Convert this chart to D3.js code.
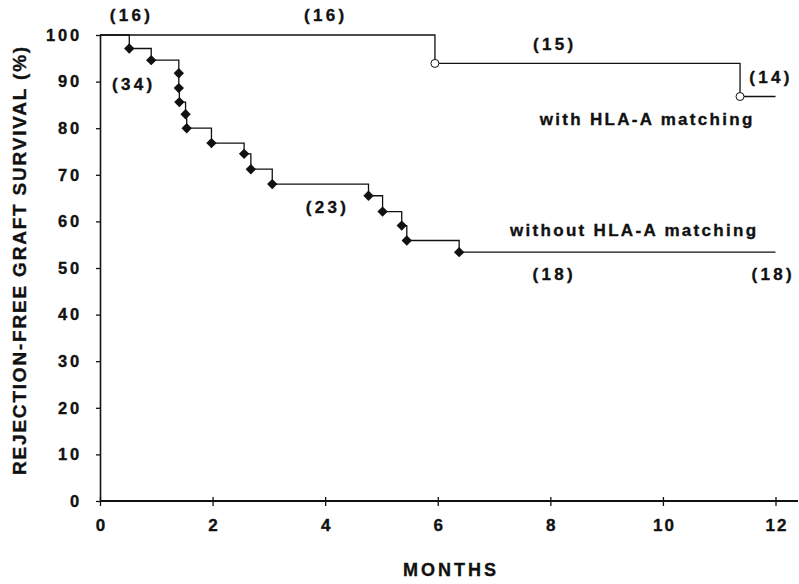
<!DOCTYPE html>
<html>
<head>
<meta charset="utf-8">
<script src="https://cdn.jsdelivr.net/npm/d3@7"></script>
<style>
  body { margin: 0; background: #fff; }
  text { font-family: "Liberation Sans", Arial, Helvetica, sans-serif; font-weight: bold; fill: #111; stroke: #111; stroke-width: 0.35px; }
</style>
</head>
<body>
<svg id="plotSvg"></svg>
<script>
// event times (months) and survival (%)
var monthsWithout = [0.52, 0.91, 1.40, 1.40, 1.41, 1.52, 1.54, 1.98, 2.56, 2.68, 3.06, 4.77, 5.02, 5.36, 5.45, 6.38];
var survivalWithout = [97.1, 94.6, 91.8, 88.6, 85.6, 83.0, 80.0, 76.8, 74.5, 71.2, 68.0, 65.5, 62.1, 59.1, 55.9, 53.4];
var monthsWith = [5.95, 11.37];
var survivalWith = [93.9, 86.8];
var followUp = 12;

var xTicks = [0, 2, 4, 6, 8, 10, 12];
var yTicks = [0, 10, 20, 30, 40, 50, 60, 70, 80, 90, 100];

// numbers at risk and curve labels, placed in data units
var labelText = ["(16)", "(16)", "(15)", "(14)", "with HLA-A matching",
                 "(34)", "(23)", "without HLA-A matching", "(18)", "(18)"];
var labelMonth = [0.56, 4.01, 8.08, 11.92, 9.72, 0.60, 4.04, 9.49, 8.07, 11.96];
var labelPct = [103.1, 103.1, 96.8, 89.6, 80.7, 88.1, 61.7, 56.8, 47.4, 47.4];

var W = 799, H = 584;
var svg = d3.select("#plotSvg").attr("width", W).attr("height", H);

var x = d3.scaleLinear().domain([0, 12]).range([100, 775.5]);
var y = d3.scaleLinear().domain([0, 100]).range([501, 35]);

// y axis
var yAxis = svg.append("g")
  .attr("transform", "translate(" + x(0) + ",0)")
  .call(d3.axisLeft(y).tickValues(yTicks).tickSizeInner(4).tickSizeOuter(0).tickPadding(14));
yAxis.select(".domain").attr("stroke", "#111").attr("stroke-width", 1.6);
yAxis.selectAll(".tick line").attr("stroke", "#111").attr("stroke-width", 1.3);
yAxis.selectAll(".tick text")
  .attr("font-size", 16.5).attr("letter-spacing", 2.8).attr("fill", "#111")
  .style("font-family", "'Liberation Sans', Arial, sans-serif").style("font-weight", "bold");

// x axis
var xAxis = svg.append("g")
  .attr("transform", "translate(0," + y(0) + ")")
  .call(d3.axisBottom(x).tickValues(xTicks).tickSizeOuter(0));
xAxis.select(".domain").remove();
xAxis.append("line")
  .attr("x1", x(0)).attr("x2", 798).attr("y1", 0).attr("y2", 0)
  .attr("stroke", "#111").attr("stroke-width", 2.2);
xAxis.selectAll(".tick line")
  .attr("y1", -4).attr("y2", 5).attr("stroke", "#111").attr("stroke-width", 1.3);
xAxis.selectAll(".tick text")
  .attr("y", 30).attr("dy", 0).attr("dx", 1)
  .attr("font-size", 17).attr("letter-spacing", 2).attr("fill", "#111")
  .style("font-family", "'Liberation Sans', Arial, sans-serif").style("font-weight", "bold");

// axis titles
svg.append("text")
  .attr("transform", "translate(26,260) rotate(-90)")
  .attr("text-anchor", "middle")
  .attr("font-size", 19).attr("letter-spacing", 1.8)
  .text("REJECTION-FREE GRAFT SURVIVAL (%)");

svg.append("text")
  .attr("x", 451).attr("y", 576)
  .attr("text-anchor", "middle")
  .attr("font-size", 18).attr("letter-spacing", 3)
  .text("MONTHS");

// step curves
function stepPoints(ts, ss) {
  var pts = [[0, 100]];
  ts.forEach(function(t, i) { pts.push([t, ss[i]]); });
  pts.push([followUp, ss[ss.length - 1]]);
  return pts;
}

var line = d3.line()
  .x(function(d) { return x(d[0]); })
  .y(function(d) { return y(d[1]); })
  .curve(d3.curveStepAfter);

svg.append("path")
  .datum(stepPoints(monthsWith, survivalWith))
  .attr("d", line).attr("fill", "none")
  .attr("stroke", "#111").attr("stroke-width", 1.3);

svg.append("path")
  .datum(stepPoints(monthsWithout, survivalWithout))
  .attr("d", line).attr("fill", "none")
  .attr("stroke", "#111").attr("stroke-width", 1.3);

// markers
var diamond = d3.symbol().type(d3.symbolSquare).size(54);
svg.append("g").selectAll("path")
  .data(monthsWithout)
  .enter().append("path")
  .attr("d", diamond)
  .attr("transform", function(d, i) {
    return "translate(" + x(d) + "," + y(survivalWithout[i]) + ") rotate(45)";
  })
  .attr("fill", "#111");

svg.append("g").selectAll("circle")
  .data(monthsWith)
  .enter().append("circle")
  .attr("cx", function(d) { return x(d); })
  .attr("cy", function(d, i) { return y(survivalWith[i]); })
  .attr("r", 4)
  .attr("fill", "#fff")
  .attr("stroke", "#111").attr("stroke-width", 1);

// labels
svg.append("g").selectAll("text")
  .data(labelText)
  .enter().append("text")
  .attr("x", function(d, i) { return x(labelMonth[i]); })
  .attr("y", function(d, i) { return y(labelPct[i]); })
  .attr("text-anchor", "middle")
  .attr("font-size", 17)
  .attr("letter-spacing", function(d) { return d.charAt(0) === "(" ? 3.3 : 2.3; })
  .text(function(d) { return d; });
</script>
</body>
</html>
